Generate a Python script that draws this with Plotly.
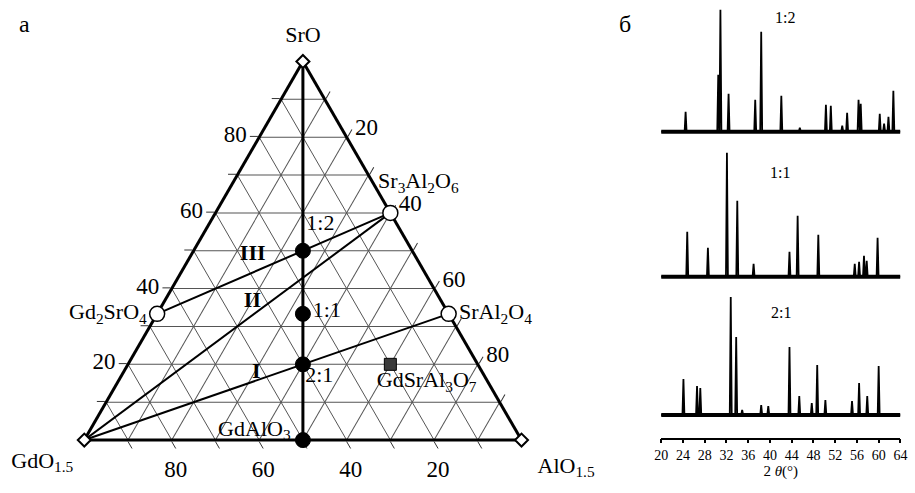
import plotly.graph_objects as go

FONT = "Liberation Serif, Times New Roman, serif"

# ---------------- Ternary data (a = SrO, b = GdO1.5, c = AlO1.5), mol % ----------------
vertex_names = ["SrO", "GdO<sub>1.5</sub>", "AlO<sub>1.5</sub>"]
vertex_a = [100, 0, 0]
vertex_b = [0, 100, 0]
vertex_c = [0, 0, 100]

open_names = ["", "Gd<sub>2</sub>SrO<sub>4</sub>", "SrAl<sub>2</sub>O<sub>4</sub>"]
open_a = [60, 33.33, 33.33]          # Sr3Al2O6, Gd2SrO4, SrAl2O4
open_b = [0, 66.67, 0]
open_c = [40, 0, 66.67]

filled_a = [0, 50, 33.33, 20]        # GdAlO3, 1:2, 1:1, 2:1
filled_b = [50, 25, 33.33, 40]
filled_c = [50, 25, 33.33, 40]

square_a = [20]                      # GdSrAl3O7
square_b = [20]
square_c = [60]

tie_lines = [
    ([33.33, 60], [66.67, 0], [0, 40]),     # Gd2SrO4 - Sr3Al2O6
    ([0, 60], [100, 0], [0, 40]),           # GdO1.5 - Sr3Al2O6
    ([0, 33.33], [100, 0], [0, 66.67]),     # GdO1.5 - SrAl2O4
]
join_a = [100, 0]                    # SrO - GdAlO3 join
join_b = [0, 50]
join_c = [0, 50]

# free labels and their anchor compositions
label_text = ["Sr<sub>3</sub>Al<sub>2</sub>O<sub>6</sub>", "GdAlO<sub>3</sub>", "1:2", "1:1", "2:1",
              "GdSrAl<sub>3</sub>O<sub>7</sub>"]
label_a = [65.1, 2.6, 56.8, 33.85, 16.7, 15.4]
label_b = [0.25, 59.8, 17.6, 27.6, 37.9, 14.0]
label_c = [34.65, 37.6, 25.6, 38.55, 45.4, 70.6]
label_pos = ["top right", "middle center", "middle center", "middle center", "middle center",
             "middle center"]

region_text = ["III", "II", "I"]
region_a = [48.96, 36.7, 17.97]
region_b = [37.0, 43.2, 51.7]
region_c = [14.04, 20.1, 30.33]

tern_tickvals = [10, 20, 30, 40, 50, 60, 70, 80, 90]
tern_ticktext = ["", "20", "", "40", "", "60", "", "80", ""]

# ---------------- XRD data (2theta in degrees, relative intensities) ----------------
xrd_ticks = [20, 24, 28, 32, 36, 40, 44, 48, 52, 56, 60, 64]
p12_pos = [24.5, 30.5, 30.9, 32.4, 37.3, 38.4, 42.1, 45.5, 50.3, 51.2, 53.3, 54.2, 56.3, 56.7, 60.2, 61.0, 61.8, 62.7]
p12_int = [20, 57, 122, 38, 32, 100, 36, 4, 27, 26, 6, 19, 32, 28, 18, 8, 15, 41]
p11_pos = [24.8, 28.6, 32.1, 34.0, 37.0, 43.6, 45.1, 48.9, 55.6, 56.4, 57.3, 57.8, 59.8]
p11_int = [45, 29, 124, 76, 13, 25, 61, 42, 13, 15, 21, 16, 39]
p21_pos = [24.1, 26.6, 27.2, 32.8, 33.8, 34.9, 38.4, 39.7, 43.6, 45.4, 47.7, 48.7, 50.2, 55.1, 56.4, 57.9, 60.0]
p21_int = [36, 29, 27, 118, 78, 5, 10, 9, 68, 19, 12, 50, 15, 14, 32, 19, 49]
xrd_start, xrd_end = 20, 64
pattern_names = ["1:2", "1:1", "2:1"]

HALF_W = 0.18


def stick_profile(pos, inten):
    xs, ys = [xrd_start], [0]
    for p, h in zip(pos, inten):
        xs += [p - HALF_W, p, p + HALF_W]
        ys += [0, h, 0]
    xs.append(xrd_end)
    ys.append(0)
    return xs, ys


fig = go.Figure()

lab_font = dict(family=FONT, size=22, color="black")

tern_line = dict(color="black", width=2)
for ta, tb, tc in tie_lines:
    fig.add_trace(go.Scatterternary(a=ta, b=tb, c=tc, mode="lines", line=tern_line,
                                    hoverinfo="skip", showlegend=False))
fig.add_trace(go.Scatterternary(a=join_a, b=join_b, c=join_c, mode="lines",
                                line=dict(color="black", width=3), hoverinfo="skip", showlegend=False))

fig.add_trace(go.Scatterternary(a=vertex_a, b=vertex_b, c=vertex_c, mode="markers",
                                marker=dict(symbol="diamond", size=10, color="white",
                                            line=dict(color="black", width=2)),
                                cliponaxis=False, showlegend=False))
# vertex names (transparent spacer markers set the text offset)
fig.add_trace(go.Scatterternary(a=vertex_a, b=vertex_b, c=vertex_c, mode="markers+text",
                                text=vertex_names, textposition=["top center", "bottom left", "bottom right"],
                                textfont=lab_font,
                                marker=dict(size=[20, 16, 24], color="rgba(0,0,0,0)",
                                            line=dict(width=0)),
                                cliponaxis=False, hoverinfo="skip", showlegend=False))
fig.add_trace(go.Scatterternary(a=open_a, b=open_b, c=open_c, mode="markers+text",
                                text=open_names, textposition=["top right", "middle left", "middle right"],
                                textfont=lab_font,
                                marker=dict(symbol="circle", size=15, color="white",
                                            line=dict(color="black", width=1.5)),
                                cliponaxis=False, showlegend=False))
fig.add_trace(go.Scatterternary(a=filled_a, b=filled_b, c=filled_c, mode="markers",
                                marker=dict(symbol="circle", size=15, color="black",
                                            line=dict(color="black", width=1)),
                                cliponaxis=False, showlegend=False))
fig.add_trace(go.Scatterternary(a=square_a, b=square_b, c=square_c, mode="markers",
                                marker=dict(symbol="square", size=12, color="#3a3a3a",
                                            line=dict(color="black", width=1)),
                                cliponaxis=False, showlegend=False))

fig.add_trace(go.Scatterternary(a=label_a, b=label_b, c=label_c, mode="text", text=label_text,
                                textposition=label_pos, textfont=lab_font,
                                cliponaxis=False, hoverinfo="skip", showlegend=False))
fig.add_trace(go.Scatterternary(a=region_a, b=region_b, c=region_c, mode="text",
                                text=["<b>%s</b>" % t for t in region_text],
                                textposition="middle center",
                                textfont=dict(family=FONT, size=22, color="black"),
                                cliponaxis=False, hoverinfo="skip", showlegend=False))

# XRD patterns
for k, (pos, inten) in enumerate([(p12_pos, p12_int), (p11_pos, p11_int), (p21_pos, p21_int)]):
    ya = "y" if k == 0 else "y%d" % (k + 1)
    fig.add_trace(go.Scatter(x=[xrd_start, xrd_end], y=[0, 0], xaxis="x", yaxis=ya, mode="lines",
                             line=dict(color="black", width=4), hoverinfo="skip", showlegend=False))
    xs, ys = stick_profile(pos, inten)
    fig.add_trace(go.Scatter(x=xs, y=ys, xaxis="x", yaxis=ya, mode="lines",
                             line=dict(color="black", width=1.8), name=pattern_names[k],
                             showlegend=False))

tern_axis = dict(title=dict(text=""), tickmode="array", tickvals=tern_tickvals,
                 ticktext=tern_ticktext, ticks="outside", ticklen=8, tickwidth=1,
                 tickcolor="#333", showline=True, linewidth=3, linecolor="black",
                 showgrid=True, gridcolor="#555", gridwidth=1, layer="below traces",
                 tickfont=dict(family=FONT, size=23, color="black"))

ann = [
    dict(text="а", x=18 / 915, y=1 - 24 / 493, xref="paper", yref="paper", showarrow=False,
         xanchor="center", yanchor="middle", font=dict(family=FONT, size=24, color="black")),
    dict(text="б", x=628 / 915, y=1 - 24 / 493, xref="paper", yref="paper", showarrow=False,
         xanchor="center", yanchor="middle", font=dict(family=FONT, size=24, color="black")),
    dict(text=pattern_names[0], x=42.8, y=114, xref="x", yref="y", showarrow=False,
         font=dict(family=FONT, size=16, color="black")),
    dict(text=pattern_names[1], x=41.8, y=104, xref="x", yref="y2", showarrow=False,
         font=dict(family=FONT, size=16, color="black")),
    dict(text=pattern_names[2], x=42.0, y=102, xref="x", yref="y3", showarrow=False,
         font=dict(family=FONT, size=16, color="black")),
]

fig.update_layout(
    width=915, height=493, autosize=False,
    margin=dict(l=0, r=0, t=0, b=0),
    paper_bgcolor="white", plot_bgcolor="white",
    font=dict(family=FONT, color="black"),
    ternary=dict(sum=100, bgcolor="white",
                 domain=dict(x=[0.08579, 0.57104], y=[0.10142, 0.88134]),
                 aaxis=tern_axis, baxis=tern_axis, caxis=tern_axis),
    xaxis=dict(domain=[0.72601, 0.99159], range=[20, 64], anchor="free", position=0.1105,
               tickmode="array", tickvals=xrd_ticks, ticks="outside", ticklen=4, tickwidth=1.5,
               tickcolor="black", showline=True, linecolor="black", linewidth=1.5,
               showgrid=False, zeroline=False,
               tickfont=dict(family=FONT, size=14, color="black"),
               title=dict(text="2 <i>θ</i>(°)", font=dict(family=FONT, size=15, color="black"),
                          standoff=0)),
    yaxis=dict(domain=[0.7085, 0.9844], range=[-12, 124], visible=False, anchor="x"),
    yaxis2=dict(domain=[0.4144, 0.6984], range=[-12, 128], visible=False, anchor="x"),
    yaxis3=dict(domain=[0.1339, 0.4057], range=[-12, 122], visible=False, anchor="x"),
    annotations=ann,
)

fig.write_html("out.html", config={"displayModeBar": False},
               post_script="document.body.style.margin='0px';")
